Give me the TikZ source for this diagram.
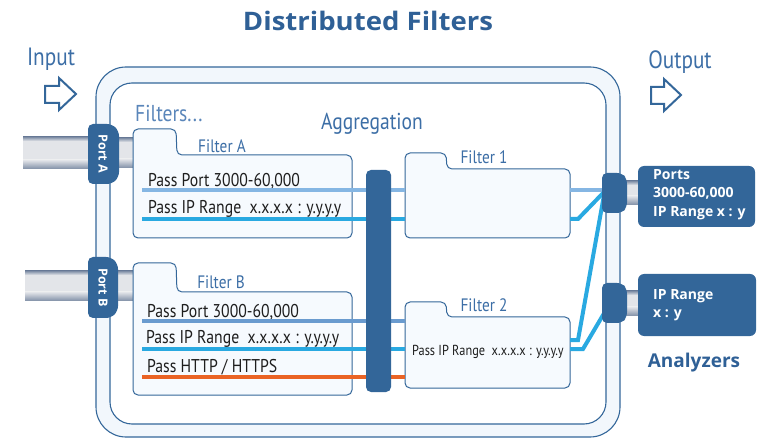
\documentclass[tikz,border=0pt]{standalone}
\usepackage{fontspec}
\setmainfont{PT Sans}
\newfontfamily\condfont[FakeStretch=0.85]{PT Sans}
\newfontfamily\boldfont{Open Sans Bold}
\newfontfamily\titlefont[FakeStretch=1.08]{Open Sans Bold}
\definecolor{frameblue}{HTML}{34679A}
\definecolor{darkblue}{HTML}{336699}
\definecolor{titleblue}{HTML}{2F6096}
\definecolor{labelblue}{HTML}{3C6EA6}
\definecolor{lightlabel}{HTML}{5A86BA}
\definecolor{bandfill}{HTML}{F2F7FC}
\definecolor{folderfill}{HTML}{F6FAFE}
\definecolor{lightline}{HTML}{85B6E3}
\definecolor{cyanline}{HTML}{29A9E1}
\definecolor{medline}{HTML}{6A9BCF}
\definecolor{orangeline}{HTML}{EA6324}
\definecolor{textdark}{HTML}{1E1E1E}
\definecolor{cylmid}{HTML}{E3E5E9}
\definecolor{cyledge}{HTML}{7F8EA6}
\begin{document}
\begin{tikzpicture}[x=1pt,y=-1pt,
  frame/.style={draw=frameblue,line width=1.1pt},
  folder/.style={draw=frameblue,fill=folderfill,line width=1pt,rounded corners=5pt},
  blockarrow/.style={draw=frameblue,fill=white,line width=2pt,line join=miter},
  iolabel/.style={text=labelblue,font=\condfont\fontsize{25}{25}\selectfont},
  flabel/.style={text=labelblue,font=\condfont\fontsize{18}{18}\selectfont},
  passtext/.style={anchor=base west,text=textdark,inner sep=0pt,font=\condfont\fontsize{18.5}{18.5}\selectfont},
  porttab/.style={fill=darkblue,rounded corners=5pt},
  porttext/.style={text=white,font=\boldfont\fontsize{12.5}{12.5}\selectfont,rotate=-90,inner sep=0pt},
  anbox/.style={fill=darkblue,rounded corners=6pt,inner sep=0pt},
  antext/.style={text=white,align=left,anchor=north west,inner sep=0pt,
     font=\boldfont\fontsize{14}{18.5}\selectfont},
  sig/.style={line width=4pt},
  aggbar/.style={fill=darkblue,rounded corners=5pt,inner sep=0pt,minimum width=25pt,minimum height=222pt}
]
\useasboundingbox (0,0) rectangle (763,438);

\tikzset{cylinder piece/.pic={
  \fill[cylmid] (0,0) rectangle (\cw,\ch);
  \shade[top color=cyledge,bottom color=cylmid] (0,0) rectangle (\cw,4);
  \shade[top color=cylmid,bottom color=cyledge] (0,\ch-9) rectangle (\cw,\ch);
}}

% title and io labels
\node[text=titleblue,font=\titlefont\fontsize{25.5}{25.5}\selectfont] (title) at (368,21) {Distributed Filters};
\node[iolabel] (input) at (51,59) {Input};
\node[iolabel] (output) at (680,62) {Output};
\draw[blockarrow] (45,86) -- (59,86) -- (59,78) -- (76,94) -- (59,110) -- (59,103) -- (45,103) -- cycle;
\draw[blockarrow] (651,87) -- (664,87) -- (664,79) -- (681,95) -- (664,111) -- (664,104) -- (651,104) -- cycle;

% frame
\draw[frame,fill=bandfill,rounded corners=30pt] (96,67) rectangle (620,437);
\draw[frame,fill=white,rounded corners=22pt] (110,83) rectangle (606,424);

\node[text=lightlabel,anchor=west,inner sep=0pt,font=\condfont\fontsize{23}{23}\selectfont] (filters) at (135,113) {Filters...};
\node[text=labelblue,font=\condfont\fontsize{23}{23}\selectfont] (agg) at (372,124) {Aggregation};

% input cables
\def\cw{66}\def\ch{32}
\pic at (23,137) {cylinder piece};
\def\cw{17}\def\ch{30}
\pic at (117,138) {cylinder piece};
\def\cw{64}\def\ch{30}
\pic at (25,271) {cylinder piece};
\def\cw{17}\def\ch{30}
\pic at (117,271) {cylinder piece};

\path[porttab] (88,124) -- (112,124) -- (119,131) -- (119,177) -- (112,184) -- (88,184) -- cycle;
\node[porttext] (portA) at (103,154) {Port A};
\path[porttab] (88,257) -- (111,257) -- (118,264) -- (118,311) -- (111,318) -- (88,318) -- cycle;
\node[porttext] (portB) at (103,287.5) {Port B};

% filter folders
\draw[folder] (133,238) -- (133,129) -- (176,129) -- (177,155) -- (352,155) -- (352,238) -- cycle;
\draw[folder] (133,395) -- (133,263) -- (176,263) -- (177,292) -- (352,292) -- (352,395) -- cycle;
\draw[folder] (405,238) -- (405,153) -- (446,153) -- (447,169) -- (570,169) -- (570,238) -- cycle;
\draw[folder] (405,388) -- (405,302) -- (446,302) -- (447,317) -- (570,317) -- (570,388) -- cycle;
\node[flabel] (fA) at (222,146) {Filter A};
\node[flabel] (fB) at (221,282) {Filter B};
\node[flabel] (f1) at (484,157) {Filter 1};
\node[flabel] (f2) at (484,305) {Filter 2};

% pass texts
\node[passtext] (tA1) at (148,187) {Pass Port 3000-60,000};
\node[passtext] (tA2) at (148,214) {Pass IP Range\ \ x.x.x.x : y.y.y.y};
\node[passtext] (tB1) at (147,317) {Pass Port 3000-60,000};
\node[passtext] (tB2) at (146,344) {Pass IP Range\ \ x.x.x.x : y.y.y.y};
\node[passtext] (tB3) at (147,372) {Pass HTTP / HTTPS};
\node[passtext,font=\condfont\fontsize{14.5}{14.5}\selectfont] (t2) at (412,355) {Pass IP Range\ \ x.x.x.x : y.y.y.y};

% signal endpoints
\coordinate (a1) at (142,190); \coordinate (a2) at (142,219);
\coordinate (b1) at (142,321); \coordinate (b2) at (142,349); \coordinate (b3) at (142,377);
\coordinate (i11) at (405,190); \coordinate (i12) at (405,219);
\coordinate (i21) at (405,321); \coordinate (i22) at (405,349); \coordinate (i23) at (405,377);
\coordinate (o11) at (570,190); \coordinate (o12) at (570,219);
\coordinate (o21) at (570,340); \coordinate (o22) at (570,349);

\draw[sig,lightline] (a1) -- (i11);
\draw[sig,cyanline] (a2) -- (i12);
\draw[sig,medline] (b1) -- (i21);
\draw[sig,cyanline] (b2) -- (i22);
\draw[sig,orangeline] (b3) -- (i23);

% output cables and analyzers
\coordinate (p1) at (606,192); \coordinate (p2) at (606,310);
\draw[sig,lightline] (o11) -- (o11 -| p1);
\draw[sig,cyanline] (o12) -- (578,219) -- ([yshift=2pt]p1);
\draw[sig,cyanline] (o21) -- (578,340) -- ([yshift=8pt]p1);
\draw[sig,cyanline] (o22) -- (583,349) -- (p2);
\def\cw{15}\def\ch{24}
\pic at (625,181) {cylinder piece};
\def\cw{15}\def\ch{25}
\pic at (625,291) {cylinder piece};
\path[porttab] (602,173) -- (622,173) -- (627,179) -- (627,207) -- (622,213) -- (602,213) -- cycle;
\path[porttab] (602,283) -- (622,283) -- (627,289) -- (627,317) -- (622,323) -- (602,323) -- cycle;
\path[anbox] (638,166) rectangle (755,227);
\path[anbox] (638,274) rectangle (756,336);
\node[antext] (an1) at (653,169) {Ports\\3000-60,000\\IP Range x : y};
\node[antext] (an2) at (653,289) {IP Range\\x : y};
\node[text=titleblue,font=\boldfont\fontsize{19}{19}\selectfont] (analyzers) at (694,363) {Analyzers};

% aggregation bar
\node[aggbar] (bar) at (378.5,281) {};
\end{tikzpicture}
\end{document}
